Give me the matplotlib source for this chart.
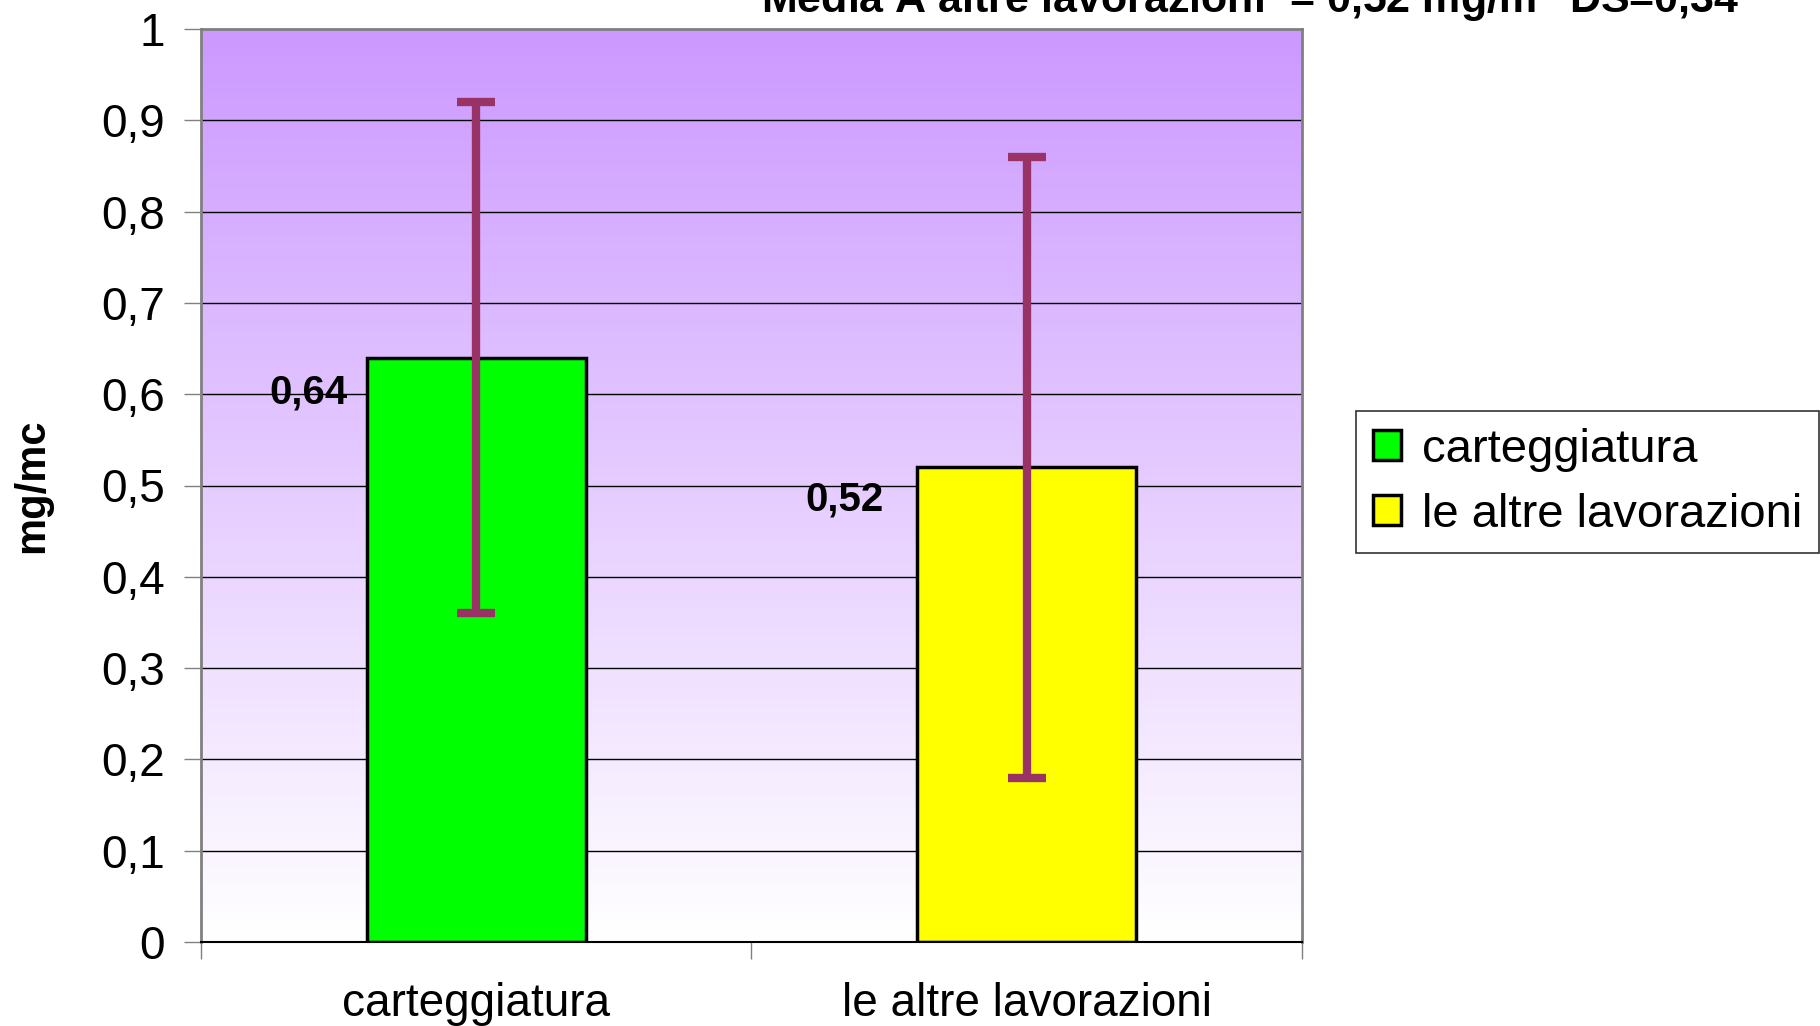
import numpy as np
import matplotlib
matplotlib.use("Agg")
import matplotlib.pyplot as plt
from matplotlib.patches import Patch
from matplotlib.colors import LinearSegmentedColormap

plt.rcParams['font.family'] = ['Liberation Sans', 'DejaVu Sans']

categories = ["carteggiatura", "le altre lavorazioni"]
means = [0.64, 0.52]
sds = [0.28, 0.34]
value_labels = ["0,64", "0,52"]
bar_colors = ["#00FF00", "#FFFF00"]
yticks = [0, 0.1, 0.2, 0.3, 0.4, 0.5, 0.6, 0.7, 0.8, 0.9, 1]
ytick_labels = ["0", "0,1", "0,2", "0,3", "0,4", "0,5", "0,6", "0,7", "0,8", "0,9", "1"]
title_text = "Media A altre lavorazioni  = 0,52 mg/m$^{3}$ DS=0,34"

W, H = 1820, 1026
fig = plt.figure(figsize=(W / 100, H / 100), dpi=100)
ax = fig.add_axes([201 / W, 1 - 942 / H, (1302 - 201) / W, (942 - 29) / H])

# gradient background
cmap = LinearSegmentedColormap.from_list("bg", ["#FFFFFF", "#CC99FF"])
grad = np.linspace(0, 1, 256).reshape(-1, 1)
ax.imshow(grad, cmap=cmap, aspect='auto', extent=(-0.5, 1.5, 0, 1),
          origin='lower', zorder=0)

ax.set_xlim(-0.5, 1.5)
ax.set_ylim(0, 1)

for yv in yticks[1:-1]:
    ax.axhline(yv, color='black', lw=1.0, zorder=1)

x = np.arange(len(categories))
ax.bar(x, means, width=0.397, color=bar_colors, edgecolor='black', linewidth=2.5, zorder=2)
ax.errorbar(x, means, yerr=sds, fmt='none', ecolor='#993366', elinewidth=6,
            capsize=14, capthick=6, zorder=3)

label_dx = [-0.233, -0.26]
label_dy = [-0.038, -0.035]
for xi, m, lab, dx, dy in zip(x, means, value_labels, label_dx, label_dy):
    ax.text(xi + dx, m + dy, lab, ha='right', va='center', fontsize=29,
            fontweight='bold', zorder=4)

ax.set_yticks(yticks)
ax.set_yticklabels(ytick_labels, fontsize=33)
ax.set_xticks([-0.5, 0.5, 1.5])
ax.set_xticklabels([])
ax.set_xticks(x, minor=True)
ax.set_xticklabels(categories, minor=True, fontsize=33)
ax.tick_params(axis='x', which='minor', length=0, pad=29)
ax.tick_params(axis='x', which='major', length=12, width=1, color='#808080')
ax.tick_params(axis='y', length=12, width=1, color='#808080', pad=14)

for s in ['left', 'top', 'right']:
    ax.spines[s].set_color('#808080')
    ax.spines[s].set_linewidth(2)
ax.spines['bottom'].set_color('black')
ax.spines['bottom'].set_linewidth(1.5)

ax.set_ylabel("mg/mc", fontsize=30, fontweight='bold')
ax.yaxis.set_label_coords(-149 / (1302 - 201), 0.5)

handles = [Patch(facecolor=c, edgecolor='black', linewidth=2.5) for c in bar_colors]
leg = fig.legend(handles, categories, loc='upper right',
                 bbox_to_anchor=(1819 / W, 1 - 411 / H), fontsize=34,
                 frameon=True, fancybox=False, edgecolor='black',
                 handlelength=0.6, handleheight=0.6, handletextpad=0.45,
                 borderpad=0.35, labelspacing=0.45, borderaxespad=0)
leg.get_frame().set_linewidth(1.2)

fig.text(1250 / W, 1 - 13 / H, title_text, ha='center', va='baseline',
         fontsize=31, fontweight='bold')

fig.savefig("out.png", dpi=100)
